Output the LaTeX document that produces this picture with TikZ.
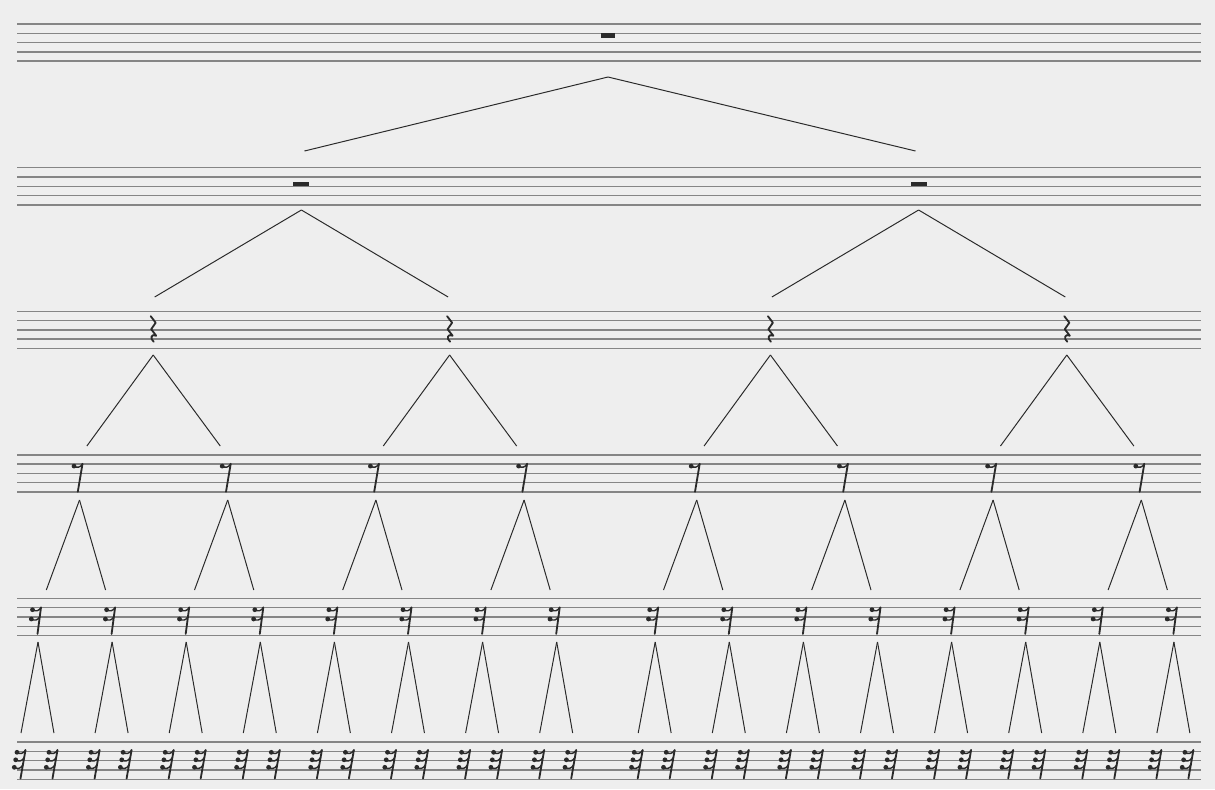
\documentclass[tikz,border=0pt]{standalone}
\usetikzlibrary{calc}
\definecolor{paper}{HTML}{EEEEEE}
\definecolor{staffgray}{HTML}{858585}
\definecolor{ink}{HTML}{2A2A2A}
\tikzset{
	staffline/.style={staffgray, line width=2pt},
	branch/.style={ink, line width=1.4pt},
	reststem/.style={ink, line width=2.6pt, line cap=round},
	restflag/.style={ink, line width=2pt, line cap=round},
	wholerest/.pic={\fill[ink] (-7,9.3) rectangle (7,14.3);},
	halfrest/.pic={\fill[ink] (-8,13.9) rectangle (8,18.6);},
	quarterrest/.pic={\draw[reststem, line join=round] (-2.5,5) -- (2.5,11.5) -- (-2,18) -- (3,24.5) .. controls (-2,22) and (-3.5,27.5) .. (0.5,30.5);},
	flag/.pic={
		\fill[ink] (-8.5,2.3) circle (3.4pt);
		\draw[restflag] (-8.5,2.3) .. controls (-5.5,4.3) and (-2,3.8) .. (0,0);
	},
	eighthrest/.pic={
		\draw[reststem] (3,9) -- (-1.7,37);
		\pic at (3,9) {flag};
	},
	sixteenthrest/.pic={
		\draw[reststem] (3,9) -- (-0.5,35.5);
		\foreach \fx/\fy in {3/9, 1.8/18.3} \pic at (\fx,\fy) {flag};
	},
	thirtysecondrest/.pic={
		\draw[reststem] (4,8) -- (-1,36.5);
		\foreach \fx/\fy in {4/8, 2.7/15.5, 1.3/23} \pic at (\fx,\fy) {flag};
	}
}
\begin{document}
\begin{tikzpicture}[x=0.05cm, y=-0.05cm]
	% paper and staves
	\useasboundingbox (0,0) rectangle (1215,789);
	\fill[paper] (0,0) rectangle (1215,789);
	\foreach \s in {0,...,5}{
		\foreach \row in {0,...,4}{
			\pgfmathsetmacro{\y}{24+143.6*\s+9.3*\row}
			\draw[staffline] (17,\y) -- (1201,\y);
		}
	}
	% whole, half and quarter rests
	\coordinate (r1-0) at (608,24);
	\pic at (r1-0) {wholerest};
	\foreach \i in {0,1}{
		\pgfmathsetmacro{\x}{301.4+617.2*\i}
		\coordinate (r2-\i) at (\x,167.6);
		\pic at (r2-\i) {halfrest};
	}
	\foreach \i in {0,...,3}{
		\pgfmathsetmacro{\x}{153.2+296.4*\i+24.4*(\i>1)}
		\coordinate (r3-\i) at (\x,311.2);
		\pic at (r3-\i) {quarterrest};
	}
	% eighth, sixteenth and thirty-second rests
	\foreach \i in {0,...,7}{
		\pgfmathsetmacro{\x}{79.5+148.2*\i+24.4*(\i>3)}
		\coordinate (r4-\i) at (\x,454.8);
		\pic at (r4-\i) {eighthrest};
	}
	\foreach \i in {0,...,15}{
		\pgfmathsetmacro{\x}{38+74.1*\i+24.4*(\i>7)}
		\coordinate (r5-\i) at (\x,598.4);
		\pic at (r5-\i) {sixteenthrest};
	}
	\foreach \i in {0,...,31}{
		\pgfmathsetmacro{\x}{37.5+74.1*int(\i/2)+24.4*(\i>15)+32*(mod(\i,2)-0.5)}
		\coordinate (r6-\i) at (\x,742);
		\pic at (r6-\i) {thirtysecondrest};
	}
	% branches from each rest to its two halves
	\foreach \lv/\last/\ay/\ey/\fr in {1/0/77/151/0.99, 2/1/210/297/0.99, 3/3/355/446/0.9, 4/7/500/590/0.8, 5/15/642/733/1.03}{
		\pgfmathtruncatemacro{\nx}{\lv+1}
		\foreach \i in {0,...,\last}{
			\coordinate (a\lv-\i) at (r\lv-\i |- 0,\ay);
			\foreach \s in {0,1}{
				\pgfmathtruncatemacro{\k}{2*\i+\s}
				\coordinate (h) at ($(r\lv-\i)!\fr!(r\nx-\k)$);
				\coordinate (e\nx-\k) at (h |- 0,\ey);
				\draw[branch] (a\lv-\i) -- (e\nx-\k);
			}
		}
	}
\end{tikzpicture}
\end{document}
